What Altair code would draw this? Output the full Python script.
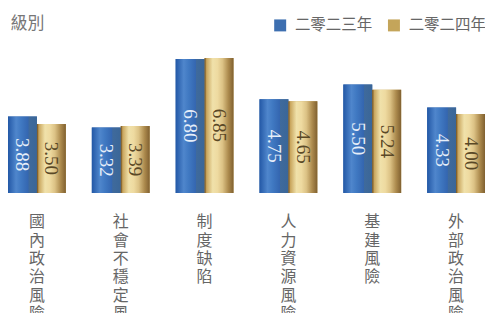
import altair as alt
import pandas as pd

categories = ["國內政治風險", "社會不穩定風險", "制度缺陷", "人力資源風險", "基建風險", "外部政治風險"]
series = ["二零二三年", "二零二四年"]
values_2023 = [3.88, 3.32, 6.80, 4.75, 5.50, 4.33]
values_2024 = [3.50, 3.39, 6.85, 4.65, 5.24, 4.00]

rows = []
for c, v in zip(categories, values_2023):
    rows.append({"category": c, "series": series[0], "value": v})
for c, v in zip(categories, values_2024):
    rows.append({"category": c, "series": series[1], "value": v})
df = pd.DataFrame(rows)

blue_grad = alt.Gradient(
    gradient="linear", x1=0, x2=1, y1=0, y2=0,
    stops=[
        alt.GradientStop(color="#2358a6", offset=0),
        alt.GradientStop(color="#4f86cc", offset=0.28),
        alt.GradientStop(color="#4079c2", offset=0.45),
        alt.GradientStop(color="#3466b0", offset=0.70),
        alt.GradientStop(color="#3f6a9c", offset=0.72),
        alt.GradientStop(color="#3a6698", offset=1),
    ],
)
gold_grad = alt.Gradient(
    gradient="linear", x1=0, x2=1, y1=0, y2=0,
    stops=[
        alt.GradientStop(color="#6a4818", offset=0),
        alt.GradientStop(color="#c9a65e", offset=0.07),
        alt.GradientStop(color="#f0e1aa", offset=0.28),
        alt.GradientStop(color="#eedaa0", offset=0.45),
        alt.GradientStop(color="#dcc285", offset=0.62),
        alt.GradientStop(color="#ad8b4e", offset=0.82),
        alt.GradientStop(color="#806030", offset=1),
    ],
)

x_enc = alt.X(
    "category:N",
    sort=categories,
    scale=alt.Scale(paddingInner=0.31, paddingOuter=0),
    axis=alt.Axis(
        title=None, labelAngle=0, domain=False, ticks=False,
        labelExpr="split(datum.label, '')",
        labelLineHeight=18.4, labelFontSize=16, labelColor="#666666",
        labelFont="Noto Sans CJK TC", labelPadding=21, labelBaseline="top",
        labelOverlap=False, labelBound=False,
    ),
)
xo_enc = alt.XOffset("series:N", sort=series,
                     scale=alt.Scale(domain=series, paddingInner=0, paddingOuter=0))
y_enc = alt.Y(
    "value:Q",
    scale=alt.Scale(domain=[0, 8], nice=False),
    axis=alt.Axis(
        title="級別", titleAngle=0, labels=False, ticks=False, domain=False, grid=False,
        titleFont="Noto Sans CJK TC", titleFontSize=17, titleFontWeight="normal",
        titleColor="#777777", titleAlign="left", titleBaseline="alphabetic",
        titleX=2, titleY=-7,
    ),
)

base = alt.Chart(df)

legend_bars = base.mark_bar().encode(
    x=x_enc, xOffset=xo_enc, y=y_enc,
    color=alt.Color(
        "series:N", sort=series,
        scale=alt.Scale(domain=series, range=["#3d6fb0", "#c4a55a"]),
        legend=alt.Legend(
            title=None, orient="none", direction="horizontal",
            legendX=265, legendY=-18, symbolType="square", symbolSize=144,
            symbolStrokeWidth=0, labelFontSize=15.5, labelColor="#666666",
            labelFont="Noto Sans CJK TC", labelOffset=7, columnPadding=13,
            padding=0,
        ),
    ),
)

blue_bars = base.transform_filter(alt.datum.series == series[0]).mark_bar(
    fill=blue_grad).encode(x=x_enc, xOffset=xo_enc, y=y_enc)
gold_bars = base.transform_filter(alt.datum.series == series[1]).mark_bar(
    fill=gold_grad).encode(x=x_enc, xOffset=xo_enc, y=y_enc)

def labels(name, color):
    return base.transform_filter(alt.datum.series == name).transform_calculate(
        mid="datum.value / 2"
    ).mark_text(
        angle=90, align="center", baseline="middle", fontSize=19,
        font="Liberation Serif", color=color,
    ).encode(
        x=x_enc, xOffset=xo_enc,
        y=alt.Y("mid:Q", scale=alt.Scale(domain=[0, 8], nice=False)),
        text=alt.Text("value:Q", format=".2f"),
    )

chart = alt.layer(
    legend_bars, blue_bars, gold_bars,
    labels(series[0], "#e6eef9"), labels(series[1], "#5a4826"),
).properties(
    width=478, height=158,
    autosize=alt.AutoSizeParams(type="none"),
    padding={"left": 0, "top": 27, "right": 0, "bottom": 120},
).configure_view(stroke=None)

chart.save("out.html", embed_options={"renderer": "svg", "actions": False})
